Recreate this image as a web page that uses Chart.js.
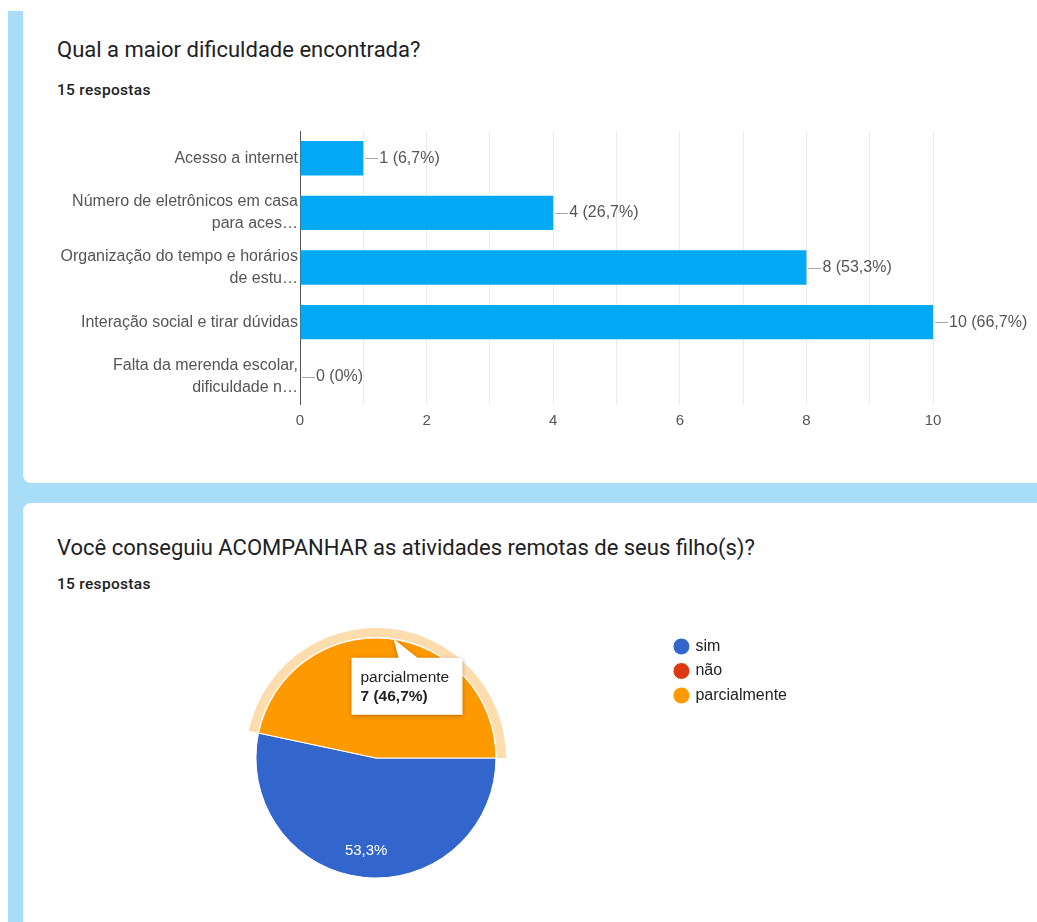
<!DOCTYPE html>
<html>
<head>
<meta charset="utf-8">
<script src="https://cdn.jsdelivr.net/npm/chart.js@4.4.0/dist/chart.umd.min.js"></script>
<style>
  body { margin: 0; width: 1037px; height: 922px; overflow: hidden; background: #fff; position: relative; font-family: Roboto, "Liberation Sans", sans-serif; }
  #bg { position: absolute; left: 8px; top: 11px; right: 0; bottom: 0; background: #a8ddf7; }
  .card { position: absolute; left: 23px; width: 1040px; background: #fff; border-radius: 8px; }
  #card1 { top: -20px; height: 503px; }
  #card2 { top: 503px; height: 460px; }
  .title { position: absolute; left: 57px; font-size: 22px; line-height: 26px; color: #202124; white-space: nowrap; }
  .sub { position: absolute; left: 57px; font-size: 15.5px; line-height: 18px; font-weight: 500; color: #202124; letter-spacing: .3px; }
  canvas { position: absolute; }
</style>
</head>
<body>
<div id="bg"></div>
<div class="card" id="card1"></div>
<div class="card" id="card2"></div>

<div class="title" style="top:37px">Qual a maior dificuldade encontrada?</div>
<div class="sub" style="top:81px">15 respostas</div>
<div class="title" style="top:535px">Você conseguiu ACOMPANHAR as atividades remotas de seus filho(s)?</div>
<div class="sub" style="top:575px">15 respostas</div>

<canvas id="barChart" width="1037" height="320" style="left:0;top:120px"></canvas>
<canvas id="pieChart" width="840" height="290" style="left:0;top:620px"></canvas>

<script>
// === Data: "Qual a maior dificuldade encontrada?" ===
const barLabels = [
  "Acesso a internet",
  ["Número de eletrônicos em casa", "para aces…"],
  ["Organização do tempo e horários", "de estu…"],
  "Interação social e tirar dúvidas",
  ["Falta da merenda escolar,", "dificuldade n…"],
];
const barValues = [1, 4, 8, 10, 0];
const barPercents = ["6,7%", "26,7%", "53,3%", "66,7%", "0%"];
const xTicksMax = 10;

// === Data: "Você conseguiu ACOMPANHAR ..." ===
const pieLabels = ["sim", "não", "parcialmente"];
const pieValues = [8, 0, 7];
const piePercents = ["53,3%", "0%", "46,7%"];
const pieColors = ["#3366cc", "#dc3912", "#ff9900"];
const highlighted = 2; // slice shown with hover tooltip

const labelFont = "Liberation Sans";
const textGray = "#555";

// draws "—n (p%)" next to each bar
const barValueLabels = {
  id: "barValueLabels",
  afterDatasetsDraw(chart) {
    const ctx = chart.ctx;
    const meta = chart.getDatasetMeta(0);
    ctx.save();
    ctx.font = `16px "${labelFont}"`;
    ctx.textBaseline = "middle";
    meta.data.forEach((bar, i) => {
      const { x, y } = bar.getProps(["x", "y"], true);
      ctx.strokeStyle = "#aaa";
      ctx.lineWidth = 1;
      ctx.beginPath();
      ctx.moveTo(x + 2, Math.round(y) + 0.5);
      ctx.lineTo(x + 15, Math.round(y) + 0.5);
      ctx.stroke();
      ctx.fillStyle = textGray;
      ctx.fillText(`${barValues[i]} (${barPercents[i]})`, x + 16, y);
    });
    ctx.restore();
  },
};

new Chart(document.getElementById("barChart"), {
  type: "bar",
  data: {
    labels: barLabels,
    datasets: [{
      data: barValues,
      backgroundColor: "#03a9f4",
      barPercentage: 0.63,
      categoryPercentage: 1,
    }],
  },
  options: {
    indexAxis: "y",
    responsive: false,
    animation: false,
    devicePixelRatio: 1,
    layout: { padding: { left: 0, right: 104, top: 11, bottom: 2 } },
    plugins: { legend: { display: false }, tooltip: { enabled: false } },
    scales: {
      x: {
        min: 0,
        max: xTicksMax,
        afterFit(scale) { scale.paddingLeft = 0; scale.paddingRight = 0; },
        ticks: {
          stepSize: 1,
          padding: 8,
          color: textGray,
          font: { family: labelFont, size: 15 },
          callback: (v) => (v % 2 === 0 ? v : ""),
        },
        grid: { color: "#ebebeb", drawTicks: false },
        border: { display: false },
      },
      y: {
        afterFit(scale) {
          scale.width = 300;
          scale.paddingTop = 0;
          scale.paddingBottom = 0;
        },
        ticks: {
          padding: 2,
          color: textGray,
          font: { family: labelFont, size: 16, lineHeight: 1.375 },
        },
        grid: { display: false, drawTicks: false },
        border: { display: true, color: "#555", width: 1 },
      },
    },
  },
  plugins: [barValueLabels],
});

// halo around hovered slice, percentage labels and the tooltip box
const pieExtras = {
  id: "pieExtras",
  beforeDatasetsDraw(chart) {
    const ctx = chart.ctx;
    const arc = chart.getDatasetMeta(0).data[highlighted];
    const { x, y, startAngle, endAngle, outerRadius } = arc.getProps(["x", "y", "startAngle", "endAngle", "outerRadius"], true);
    ctx.save();
    ctx.fillStyle = "#fddcad";
    ctx.beginPath();
    ctx.arc(x, y, outerRadius + 10, startAngle, endAngle);
    ctx.arc(x, y, outerRadius + 1, endAngle, startAngle, true);
    ctx.closePath();
    ctx.fill();
    ctx.restore();
  },
  afterDatasetsDraw(chart) {
    const ctx = chart.ctx;
    const meta = chart.getDatasetMeta(0);
    ctx.save();
    ctx.font = `15px "${labelFont}"`;
    ctx.textAlign = "center";
    ctx.textBaseline = "middle";
    ctx.fillStyle = "#fff";
    meta.data.forEach((arc, i) => {
      if (!pieValues[i]) return;
      const { x, y, startAngle, endAngle, outerRadius } = arc.getProps(["x", "y", "startAngle", "endAngle", "outerRadius"], true);
      const mid = (startAngle + endAngle) / 2;
      ctx.fillText(piePercents[i], x + Math.cos(mid) * outerRadius * 0.78, y + Math.sin(mid) * outerRadius * 0.78);
    });

    // tooltip for the highlighted slice
    const arc = meta.data[highlighted];
    const { x, y, startAngle, endAngle, outerRadius } = arc.getProps(["x", "y", "startAngle", "endAngle", "outerRadius"], true);
    const mid = (startAngle + endAngle) / 2;
    const tipX = x + Math.cos(mid) * outerRadius + 5;
    const tipY = y + Math.sin(mid) * outerRadius;
    const bx = tipX - 42, by = tipY + 19, bw = 111, bh = 57;
    ctx.shadowColor = "rgba(0,0,0,0.3)";
    ctx.shadowBlur = 4;
    ctx.shadowOffsetY = 1;
    ctx.fillStyle = "#fff";
    ctx.beginPath();
    ctx.moveTo(bx, by);
    ctx.lineTo(bx + 47, by);
    ctx.lineTo(tipX, tipY);
    ctx.lineTo(bx + 66, by);
    ctx.lineTo(bx + bw, by);
    ctx.lineTo(bx + bw, by + bh);
    ctx.lineTo(bx, by + bh);
    ctx.closePath();
    ctx.fill();
    ctx.shadowColor = "transparent";
    ctx.textAlign = "left";
    ctx.fillStyle = "#222";
    ctx.font = `15.5px "${labelFont}"`;
    ctx.fillText(pieLabels[highlighted], bx + 9, by + 20);
    ctx.font = `bold 15.5px "${labelFont}"`;
    ctx.fillText(`${pieValues[highlighted]} (${piePercents[highlighted]})`, bx + 9, by + 39);
    ctx.restore();
  },
};

new Chart(document.getElementById("pieChart"), {
  type: "pie",
  data: {
    labels: pieLabels,
    datasets: [{
      data: pieValues,
      backgroundColor: pieColors,
      borderColor: "#fff",
      borderWidth: 1,
      radius: 120,
      hoverOffset: 0,
    }],
  },
  options: {
    responsive: false,
    animation: false,
    devicePixelRatio: 1,
    rotation: 90,
    layout: { padding: { left: 85, right: 43, top: 10, bottom: 24 } },
    plugins: {
      tooltip: { enabled: false },
      legend: {
        position: "right",
        align: "start",
        labels: {
          usePointStyle: true,
          pointStyle: "circle",
          boxWidth: 12,
          boxHeight: 12,
          padding: 8.5,
          color: "#222",
          font: { family: labelFont, size: 16 },
        },
      },
    },
  },
  plugins: [pieExtras],
});
</script>
</body>
</html>
